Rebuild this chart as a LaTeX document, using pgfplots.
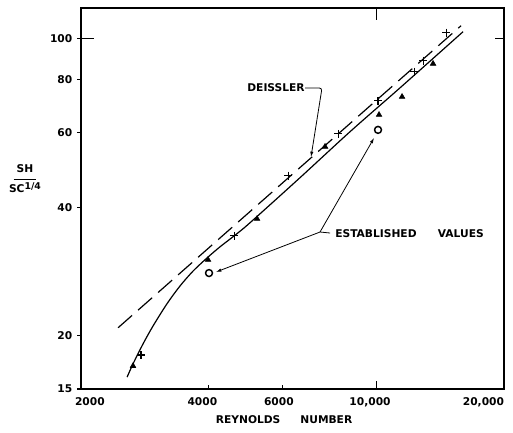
\documentclass[border=0pt]{standalone}
\usepackage{fontspec}
\setmainfont{DejaVu Sans}
\usepackage{pgfplots}
\pgfplotsset{compat=1.18}
\usetikzlibrary{arrows.meta}
\newcommand{\lbl}{\fontsize{8}{9.6}\selectfont\bfseries}

\begin{document}
\begin{tikzpicture}
\begin{axis}[
  xmode=log, ymode=log,
  scale only axis, width=317.25pt, height=285.75pt,
  xmin=2000, xmax=20000, ymin=15, ymax=118,
  clip=false,
  axis line style={line width=0.9pt},
  xtick={2000,4000,6000,10000,20000},
  xticklabels={{\makebox[0pt][l]{\kern-4.5pt 2000}},{\makebox[0pt]{\kern-9pt 4000}},{\makebox[0pt]{\kern-6pt 6000}},{\makebox[0pt]{\kern-10pt 10,000}},{\makebox[0pt][r]{20,000}}},
  ytick={15,20,40,60,80,100},
  yticklabels={15,20,40,60,80,100},
  xminorticks=false, yminorticks=false,
  xtick pos=bottom, ytick pos=left,
  xtick align=inside, ytick align=outside,
  major tick length=3pt,
  tick style={line width=0.8pt, black},
  tick label style={font=\lbl},
  xticklabel style={yshift=-3pt},
]
\coordinate (sw) at (rel axis cs:0,0);
\coordinate (ne) at (rel axis cs:1,1);

% solid curve
\addplot[line width=0.9pt, smooth, tension=0.5] coordinates {
(2570,16.0)(2654,17.18)(2802,19.14)(2960,21.1)(3194,23.8)(3428,26.2)
(3680,28.4)(3972,30.5)(4264,32.4)(4626,34.5)(5018,36.9)(6589,47.1)
(8649,60.4)(11354,76.6)(16004,103.8)};

% Deissler dashed line
\addplot[line width=0.9pt, dash pattern=on 14pt off 6pt] coordinates {(2447,20.9)(15829,107.2)};

% crosses
\addplot[only marks, mark=+, mark size=3pt, mark options={line width=0.8pt}] coordinates {
(2772,18.03)(4600,34.4)(6172,47.6)(8103,59.7)(10072,71.4)(12254,83.6)(12870,88.7)(14590,103.2)};

% triangles
\addplot[only marks, mark=triangle*, mark size=2.4pt] coordinates {
(2654,17.0)(3993,30.2)(5214,37.7)(7550,55.7)(10128,66.2)(11480,73.0)(13590,87.3)};

% circles
\addplot[only marks, mark=o, mark size=2.6pt, mark options={line width=1.1pt, fill=white}] coordinates {
(4014,28.1)(10072,61.0)};

% extra ticks
\draw[line width=0.8pt] (axis cs:2000,100) -- ([xshift=10pt]axis cs:2000,100);
\draw[line width=0.8pt] (axis cs:20000,100) -- ([xshift=-7pt]axis cs:20000,100);
\draw[line width=0.8pt] (axis cs:10000,118) -- ([yshift=-9pt]axis cs:10000,118);
\draw[line width=0.8pt] (axis cs:10000,15) -- ([yshift=6pt]axis cs:10000,15);

% annotations
\node[font=\lbl] at (rel axis cs:0.461,0.790) {DEISSLER};
\draw[line width=0.6pt, rounded corners=2pt, -{Latex[length=4pt,width=2.5pt]}]
  (rel axis cs:0.5296,0.790) -- (rel axis cs:0.5697,0.790) -- (rel axis cs:0.5437,0.6089);

\node[font=\lbl, anchor=west, inner sep=0pt] at (rel axis cs:0.6005,0.4068) {ESTABLISHED\hspace{16pt}VALUES};
\draw[line width=0.6pt] (rel axis cs:0.565,0.412) -- (rel axis cs:0.5887,0.4094);
\draw[line width=0.6pt, -{Latex[length=4pt,width=2.5pt]}] (rel axis cs:0.565,0.412) -- (rel axis cs:0.3191,0.3071);
\draw[line width=0.6pt, -{Latex[length=4pt,width=2.5pt]}] (rel axis cs:0.565,0.412) -- (rel axis cs:0.6927,0.6588);

% axis labels
\node[font=\lbl] at (rel axis cs:0.48,-0.0814) {REYNOLDS\hspace{15pt}NUMBER};
\node[font=\lbl, inner sep=0pt] at (rel axis cs:-0.1324,0.5486)
  {\begin{tabular}{@{}c@{}}SH\\[-4pt]\rule{17pt}{0.6pt}\\[-1pt]SC\raisebox{2.5pt}{\fontsize{7}{7}\selectfont 1/4}\end{tabular}};
\end{axis}
\pgfresetboundingbox
\path[use as bounding box] ([xshift=-60.75pt,yshift=-32.25pt]sw) rectangle ([xshift=6.75pt,yshift=6pt]ne);
\end{tikzpicture}
\end{document}
